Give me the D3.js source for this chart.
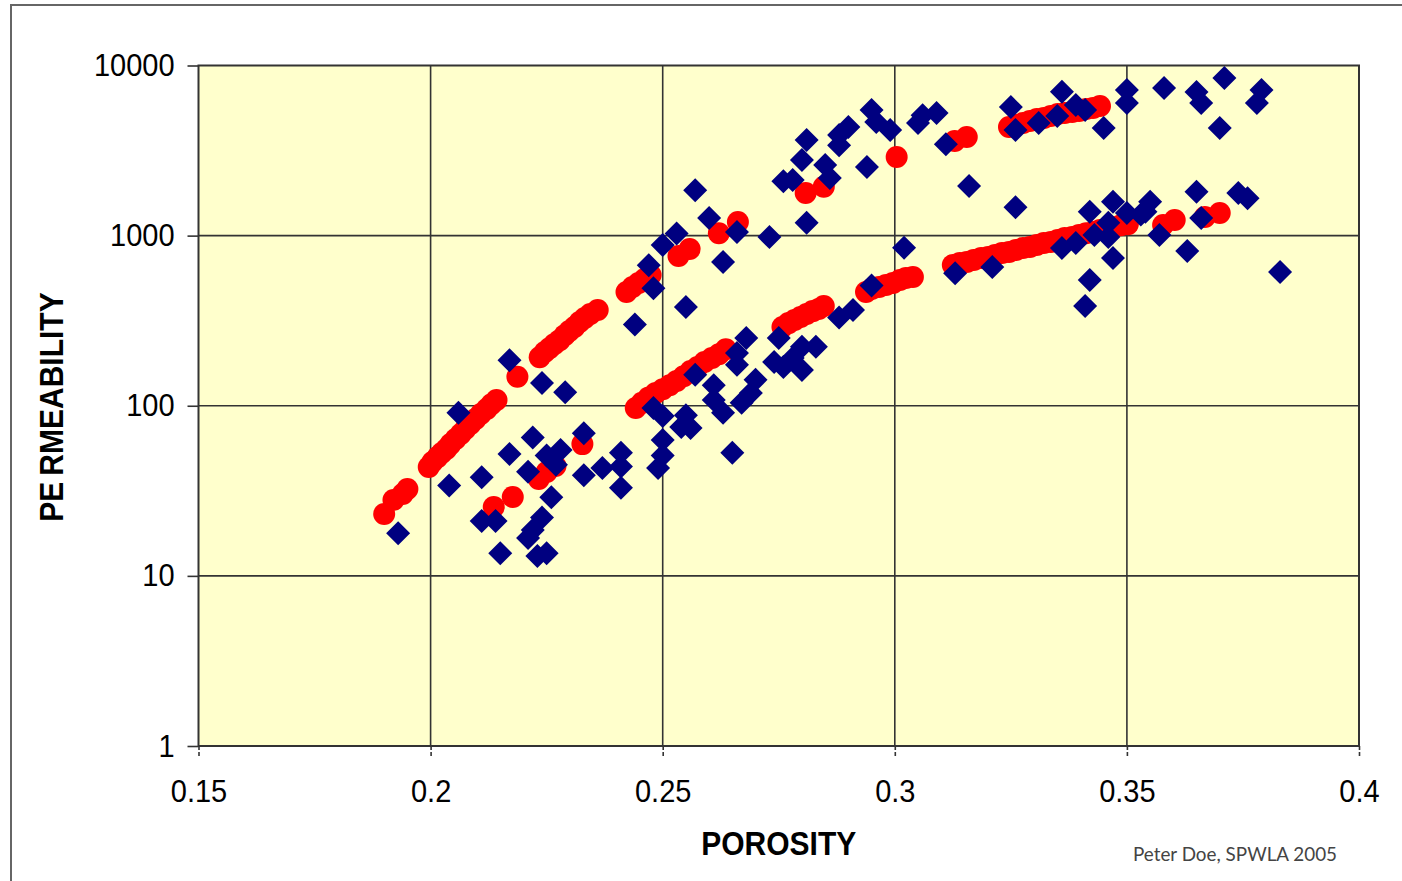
<!DOCTYPE html>
<html>
<head>
<meta charset="utf-8">
<script src="https://cdn.jsdelivr.net/npm/d3@7"></script>
<style>
  body { margin: 0; background: #fff; }
  text { font-family: "Liberation Sans", Arial, sans-serif; }
</style>
</head>
<body>
<svg id="chart" width="1402" height="881"></svg>
<script>
// Axis ticks
const xTicks = [0.15, 0.2, 0.25, 0.3, 0.35, 0.4];
const yTicks = [1, 10, 100, 1000, 10000];

// Core measurements: [porosity, permeability (mD)]
const coreSamples = [
  [0.193, 17.8], [0.206, 91], [0.204, 34], [0.211, 38], [0.217, 185], [0.217, 52], [0.211, 21], [0.214, 21], [0.215, 13.6], [0.221, 41],
  [0.222, 65], [0.224, 136], [0.229, 120], [0.226, 29], [0.224, 22], [0.222, 18.6], [0.221, 16.7], [0.223, 13.1], [0.225, 13.6], [0.225, 51],
  [0.228, 55], [0.227, 45], [0.233, 69], [0.233, 39], [0.237, 43], [0.241, 53], [0.241, 33], [0.241, 44], [0.244, 300], [0.247, 670],
  [0.248, 490], [0.248, 97], [0.250, 87], [0.250, 63], [0.250, 51], [0.249, 43], [0.250, 880], [0.253, 1030], [0.257, 1850], [0.260, 1270],
  [0.263, 700], [0.266, 1050], [0.255, 380], [0.257, 152], [0.261, 132], [0.261, 108], [0.263, 91], [0.255, 88], [0.254, 75], [0.256, 74],
  [0.265, 53], [0.268, 250], [0.266, 204], [0.266, 174], [0.270, 142], [0.269, 119], [0.267, 104], [0.273, 980], [0.275, 250], [0.274, 181],
  [0.276, 169], [0.278, 191], [0.280, 222], [0.283, 222], [0.280, 162], [0.288, 330], [0.291, 365], [0.295, 510], [0.276, 2090], [0.278, 2120],
  [0.281, 1190], [0.280, 2780], [0.281, 3650], [0.285, 2600], [0.286, 2180], [0.288, 3900], [0.290, 4350], [0.288, 3400], [0.294, 2530], [0.295, 5470],
  [0.296, 4650], [0.299, 4180], [0.302, 850], [0.305, 4590], [0.306, 5100], [0.309, 5260], [0.311, 3450], [0.316, 1960], [0.313, 600], [0.321, 654],
  [0.326, 1470], [0.325, 5700], [0.326, 4180], [0.331, 4590], [0.336, 7000], [0.335, 5050], [0.339, 5860], [0.341, 5470], [0.345, 4290], [0.336, 846],
  [0.339, 905], [0.342, 1380], [0.343, 1010], [0.346, 1190], [0.342, 548], [0.341, 386], [0.347, 1580], [0.346, 980], [0.347, 738], [0.350, 7180],
  [0.350, 6020], [0.350, 1360], [0.353, 1330], [0.355, 1580], [0.354, 1380], [0.357, 1010], [0.358, 7370], [0.363, 812], [0.365, 6990], [0.366, 6020],
  [0.365, 1810], [0.366, 1270], [0.371, 8440], [0.370, 4290], [0.374, 1780], [0.376, 1660], [0.379, 7180], [0.378, 6020], [0.383, 611]
];

// Predicted permeability, upper trend: [porosity, permeability (mD)]
const predictedUpper = [
  [0.190, 23.1], [0.192, 27.9], [0.194, 30.3], [0.195, 32.4],
  [0.1996, 43.6], [0.2004, 46.7], [0.2015, 49.9], [0.2024, 52.7], [0.2034, 55.7], [0.2043, 59.5], [0.2054, 63.7], [0.2065, 68.2],
  [0.2075, 73], [0.2086, 78.1], [0.2097, 83.5], [0.2108, 89.4], [0.2121, 95.6], [0.2131, 102], [0.2142, 108],
  [0.2187, 148],
  [0.2235, 193], [0.2246, 207], [0.2256, 218], [0.2267, 231], [0.2278, 243], [0.2289, 260], [0.2299, 275], [0.2310, 290],
  [0.2321, 311], [0.2332, 328], [0.2344, 346], [0.2360, 365],
  [0.2422, 466], [0.2435, 499], [0.2448, 526], [0.2461, 556], [0.2474, 587],
  [0.2534, 759], [0.2558, 834],
  [0.2621, 1034], [0.2662, 1202],
  [0.2808, 1780], [0.2847, 1936],
  [0.3004, 2900],
  [0.3129, 3600], [0.3155, 3800],
  [0.3246, 4350], [0.3261, 4470], [0.3276, 4590], [0.3291, 4720], [0.3306, 4850], [0.3321, 4910], [0.3336, 5050],
  [0.3351, 5190], [0.3366, 5260], [0.3382, 5330], [0.3397, 5400], [0.3412, 5550], [0.3427, 5630], [0.3442, 5780]
];

// Predicted permeability, lower trend: [porosity, permeability (mD)]
const predictedLower = [
  [0.2136, 25.4], [0.2177, 29.1], [0.2233, 37.1], [0.2250, 40.8], [0.2269, 44.2], [0.2327, 59.5],
  [0.2442, 96.9], [0.2455, 104], [0.2470, 112], [0.2485, 119], [0.2500, 125], [0.2515, 132], [0.2530, 140],
  [0.2545, 149], [0.2560, 160], [0.2575, 169], [0.2590, 181], [0.2606, 191], [0.2621, 201], [0.2636, 215],
  [0.2758, 290], [0.2771, 306], [0.2784, 319], [0.2797, 332], [0.2810, 346], [0.2823, 360], [0.2836, 370], [0.2847, 386],
  [0.2938, 466], [0.2950, 485], [0.2966, 499], [0.2981, 512], [0.2996, 526], [0.3011, 548], [0.3024, 563], [0.3039, 571],
  [0.3125, 672], [0.3140, 690], [0.3155, 700], [0.3170, 719], [0.3186, 738], [0.3201, 748], [0.3216, 769], [0.3231, 790],
  [0.3246, 801], [0.3261, 823], [0.3276, 846], [0.3291, 857], [0.3306, 880], [0.3321, 905], [0.3336, 917], [0.3351, 942],
  [0.3366, 968], [0.3382, 981], [0.3397, 1008], [0.3412, 1034], [0.3427, 1050], [0.3442, 1078], [0.3457, 1106], [0.3472, 1120],
  [0.3487, 1150], [0.3502, 1166],
  [0.3578, 1154], [0.3603, 1235], [0.3668, 1286], [0.3700, 1360]
];

const svg = d3.select("#chart");

// Outer frame
svg.append("rect")
  .attr("x", 11).attr("y", 5).attr("width", 1420).attr("height", 900)
  .attr("fill", "#fff").attr("stroke", "#666").attr("stroke-width", 2);

const plot = { left: 198.5, top: 65.5, right: 1359, bottom: 746 };

const x = d3.scaleLinear().domain([0.15, 0.4]).range([plot.left, plot.right]);
const y = d3.scaleLog().domain([1, 10000]).range([plot.bottom, plot.top]);

// Plot background
svg.append("rect")
  .attr("x", plot.left).attr("y", plot.top)
  .attr("width", plot.right - plot.left).attr("height", plot.bottom - plot.top)
  .attr("fill", "#FFFFCC");

// Grid
const grid = svg.append("g").attr("stroke", "#333").attr("stroke-width", 1.6);
grid.selectAll("line.vx").data(xTicks.slice(1, -1)).join("line")
  .attr("x1", d => x(d)).attr("x2", d => x(d))
  .attr("y1", plot.top).attr("y2", plot.bottom);
grid.selectAll("line.hy").data(yTicks.slice(1, -1)).join("line")
  .attr("x1", plot.left).attr("x2", plot.right)
  .attr("y1", d => y(d)).attr("y2", d => y(d));

// Plot border
svg.append("rect")
  .attr("x", plot.left).attr("y", plot.top)
  .attr("width", plot.right - plot.left).attr("height", plot.bottom - plot.top)
  .attr("fill", "none").attr("stroke", "#333").attr("stroke-width", 2);

// Labels are set slightly tall (vertical stretch of 1.08)
const stretch = 1.08;

// Y axis
const yAxis = svg.append("g")
  .attr("transform", `translate(${plot.left},0)`)
  .call(d3.axisLeft(y).tickValues(yTicks).tickFormat(d3.format("d")).tickSize(11).tickPadding(13));
yAxis.select(".domain").remove();
yAxis.selectAll(".tick line").attr("stroke", "#333").attr("stroke-width", 1.6);
yAxis.selectAll(".tick text")
  .attr("fill", "#000").attr("font-size", 29)
  .attr("transform", `scale(1,${stretch})`)
  .style("font-family", "'Liberation Sans', Arial, sans-serif");

// X axis
const xAxis = svg.append("g")
  .attr("transform", `translate(0,${plot.bottom})`)
  .call(d3.axisBottom(x).tickValues(xTicks).tickFormat(d => String(d)).tickSize(11));
xAxis.select(".domain").remove();
xAxis.selectAll(".tick line").attr("stroke", "#333").attr("stroke-width", 1.6).attr("stroke-dasharray", "4,2");
xAxis.selectAll(".tick text")
  .attr("fill", "#000").attr("font-size", 29)
  .attr("y", 0).attr("dy", 0)
  .attr("transform", `translate(0,56) scale(1,${stretch})`)
  .style("font-family", "'Liberation Sans', Arial, sans-serif");

// Predicted trends (red circles), drawn beneath the core points
const predicted = predictedUpper.concat(predictedLower);
svg.append("g").selectAll("circle").data(predicted).join("circle")
  .attr("cx", d => x(d[0])).attr("cy", d => y(d[1]))
  .attr("r", 11).attr("fill", "#FF0000");

// Core data (navy diamonds)
const diamond = d3.symbol(d3.symbolSquare, 288)();
svg.append("g").selectAll("path").data(coreSamples).join("path")
  .attr("d", diamond)
  .attr("transform", d => `translate(${x(d[0])},${y(d[1])}) rotate(45)`)
  .attr("fill", "#000080");

// Axis titles
svg.append("text")
  .attr("transform", `translate(${(plot.left + plot.right) / 2},855) scale(1,${stretch})`)
  .attr("text-anchor", "middle")
  .attr("font-size", 30).attr("font-weight", "bold").attr("fill", "#000")
  .text("POROSITY");

const yTitle = svg.append("text")
  .attr("transform", `translate(63,407) scale(${stretch},1) rotate(-90)`)
  .attr("text-anchor", "middle")
  .attr("font-size", 30).attr("font-weight", "bold").attr("fill", "#000");
yTitle.append("tspan").text("PE");
yTitle.append("tspan").attr("dx", 6).text("RMEABILITY");

// Credit
svg.append("text")
  .attr("x", 1133).attr("y", 861)
  .attr("font-size", 20).attr("fill", "#444")
  .attr("textLength", 204).attr("lengthAdjust", "spacingAndGlyphs")
  .style("font-family", "Lato, 'Open Sans', sans-serif")
  .text("Peter Doe, SPWLA 2005");
</script>
</body>
</html>
